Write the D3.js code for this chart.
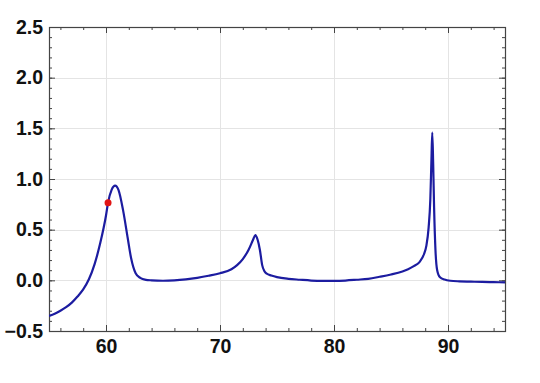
<!DOCTYPE html>
<html>
<head>
<meta charset="utf-8">
<script src="https://cdn.jsdelivr.net/npm/d3@7"></script>
<style>
html,body{margin:0;padding:0;background:#fff;}
svg{display:block;}
</style>
</head>
<body>
<svg id="chart" width="540" height="383"></svg>
<script>
// ---- data ----
const xs = [55.0,55.5,56.0,56.5,57.0,57.5,58.0,58.5,59.0,59.5,60.0,60.18,60.5,60.8,61.1,61.5,61.9,62.2,62.6,63.0,63.5,64.0,65.0,66.0,67.0,68.0,69.0,70.0,71.0,71.5,72.0,72.5,72.9,73.1,73.3,73.5,73.7,73.9,74.1,74.5,75.0,76.0,77.0,78.0,79.0,80.0,81.0,82.0,83.0,84.0,85.0,86.0,86.5,87.0,87.5,87.9,88.1,88.3,88.45,88.55,88.62,88.7,88.78,88.9,89.05,89.3,89.7,90.2,91.0,92.0,93.0,94.0,95.0];
const ys = [-0.352,-0.33,-0.30,-0.265,-0.22,-0.16,-0.09,0.01,0.16,0.37,0.64,0.766,0.895,0.934,0.89,0.69,0.42,0.22,0.07,0.025,0.005,0.0,-0.004,0.0,0.01,0.025,0.045,0.07,0.11,0.15,0.21,0.30,0.40,0.447,0.40,0.30,0.15,0.09,0.065,0.048,0.032,0.015,0.006,-0.002,-0.005,-0.005,-0.002,0.006,0.015,0.035,0.058,0.088,0.11,0.14,0.18,0.26,0.34,0.52,0.80,1.20,1.457,1.15,0.72,0.30,0.10,0.03,0.008,-0.004,-0.01,-0.013,-0.016,-0.018,-0.02];
const markerX = [60.18];
const markerY = [0.766];
const xTicks = [60,70,80,90];
const yTicks = [-0.5,0,0.5,1.0,1.5,2.0,2.5];
const xMinor = d3.range(56,95,2);
const yMinor = d3.range(-5,26,1).map(v=>v/10);

// ---- layout ----
const L=49, R=505, T=27, B=331;
const x = d3.scaleLinear().domain([55,95]).range([L,R]);
const y = d3.scaleLinear().domain([-0.5,2.5]).range([B,T]);
const svg = d3.select("#chart");
const fmtY = d => (d<0 ? "\u2212" : "") + Math.abs(d).toFixed(1);

// gridlines
const grid = svg.append("g").attr("stroke","#e4e4e4").attr("stroke-width",1);
grid.selectAll(".gx").data(xTicks).join("line")
  .attr("x1",d=>x(d)+0.5).attr("x2",d=>x(d)+0.5).attr("y1",T).attr("y2",B);
grid.selectAll(".gy").data(yTicks.filter(d=>d>-0.5&&d<2.5)).join("line")
  .attr("y1",d=>Math.round(y(d))+0.5).attr("y2",d=>Math.round(y(d))+0.5).attr("x1",L).attr("x2",R);

// axes (ticks inward)
const axColor="#444";
function styleAxis(g){ g.select(".domain").remove(); g.selectAll("line").attr("stroke",axColor); }
const fontCss = "font-family:'Liberation Sans',Arial,sans-serif;font-weight:bold;font-size:19.5px;fill:#111;";

svg.append("g").attr("transform",`translate(0,${B})`)
  .call(d3.axisBottom(x).tickValues(xMinor).tickSize(-3).tickFormat(""))
  .call(styleAxis);
svg.append("g").attr("transform",`translate(0,${B})`)
  .call(d3.axisBottom(x).tickValues(xTicks).tickSize(-6).tickPadding(8).tickFormat(d3.format("d")))
  .call(styleAxis)
  .call(g=>g.selectAll("text").attr("style",fontCss).attr("dy","0.71em"));
svg.append("g").attr("transform",`translate(0,${T})`)
  .call(d3.axisTop(x).tickValues(xMinor).tickSize(-3).tickFormat("")).call(styleAxis);
svg.append("g").attr("transform",`translate(0,${T})`)
  .call(d3.axisTop(x).tickValues(xTicks).tickSize(-6).tickFormat("")).call(styleAxis);

svg.append("g").attr("transform",`translate(${L},0)`)
  .call(d3.axisLeft(y).tickValues(yMinor).tickSize(-3).tickFormat("")).call(styleAxis);
svg.append("g").attr("transform",`translate(${L},0)`)
  .call(d3.axisLeft(y).tickValues(yTicks).tickSize(-6).tickPadding(6).tickFormat(fmtY))
  .call(styleAxis)
  .call(g=>g.selectAll("text").attr("style",fontCss));
svg.append("g").attr("transform",`translate(${R},0)`)
  .call(d3.axisRight(y).tickValues(yMinor).tickSize(-3).tickFormat("")).call(styleAxis);
svg.append("g").attr("transform",`translate(${R},0)`)
  .call(d3.axisRight(y).tickValues(yTicks).tickSize(-6).tickFormat("")).call(styleAxis);

// frame
svg.append("rect").attr("x",L+0.5).attr("y",T+0.5).attr("width",R-L).attr("height",B-T)
  .attr("fill","none").attr("stroke",axColor).attr("stroke-width",1.2);

// curve
const data = xs.map((v,i)=>({x:v,y:ys[i]}));
svg.append("defs").append("clipPath").attr("id","clip").append("rect")
  .attr("x",L).attr("y",T).attr("width",R-L).attr("height",B-T);
svg.append("path").datum(data)
  .attr("clip-path","url(#clip)")
  .attr("fill","none").attr("stroke","#1c1ca0").attr("stroke-width",2.2)
  .attr("stroke-linejoin","round")
  .attr("d",d3.line().x(d=>x(d.x)).y(d=>y(d.y)).curve(d3.curveMonotoneX));

// marker
svg.selectAll(".pt").data(markerX.map((v,i)=>({x:v,y:markerY[i]}))).join("circle")
  .attr("cx",d=>x(d.x)).attr("cy",d=>y(d.y)).attr("r",3.5).attr("fill","#e01515");
</script>
</body>
</html>
